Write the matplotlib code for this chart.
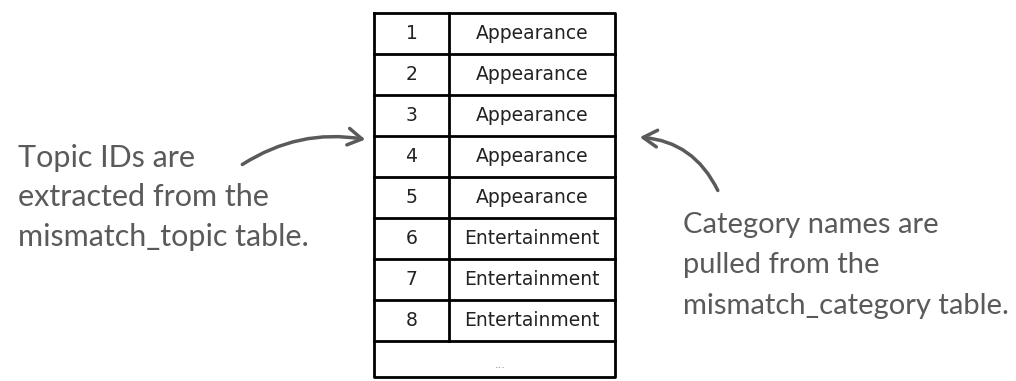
#!/usr/bin/env python3
import matplotlib.pyplot as plt
from matplotlib.patches import FancyArrowPatch

topic_ids = ['1', '2', '3', '4', '5', '6', '7', '8', '...']
categories = ['Appearance', 'Appearance', 'Appearance', 'Appearance', 'Appearance',
              'Entertainment', 'Entertainment', 'Entertainment', '']

left_note = 'Topic IDs are\nextracted from the\nmismatch_topic table.'
right_note = 'Category names are\npulled from the\nmismatch_category table.'

GREY = '#5a5a5a'

fig = plt.figure(figsize=(10.16, 3.81), dpi=100)
ax = fig.add_axes([0, 0, 1, 1])
ax.set_xlim(0, 1016)
ax.set_ylim(381, 0)
ax.axis('off')

# table layout in pixels
x0, xm, x1 = 374, 449, 615
y0 = 13
row_h = 41
bottom = 377

n = len(topic_ids)
tops = [y0 + i * row_h for i in range(n)]

ax.plot([x0, x1, x1, x0, x0], [y0, y0, bottom, bottom, y0], color='black', lw=2)
for t in tops[1:]:
    ax.plot([x0, x1], [t, t], color='black', lw=2)
ax.plot([xm, xm], [y0, tops[-1]], color='black', lw=2)

for i, (tid, cat) in enumerate(zip(topic_ids, categories)):
    if cat:
        yc = tops[i] + row_h / 2
        ax.text((x0 + xm) / 2, yc, tid, ha='center', va='center', fontsize=13.5,
                family='DejaVu Sans', color='#222222')
        ax.text((xm + x1) / 2, yc, cat, ha='center', va='center', fontsize=13.5,
                family='DejaVu Sans', color='#222222')
    else:
        # the "..." row spans both columns
        ax.text((x0 + x1) / 2 + 6, (tops[i] + bottom) / 2 + 6, tid, ha='center',
                va='center', fontsize=8, color='#888888')

# annotations
ax.text(18, 144, left_note, ha='left', va='top', fontsize=22, family='Lato',
        color=GREY, linespacing=1.5)
ax.text(683, 212, right_note, ha='left', va='top', fontsize=21, family='Lato',
        color=GREY, linespacing=1.68)

ax.add_patch(FancyArrowPatch((240, 166), (368, 140), connectionstyle='arc3,rad=-0.2',
                             arrowstyle='->,head_length=10,head_width=6',
                             color=GREY, lw=2.5))
ax.add_patch(FancyArrowPatch((719, 193), (637, 137), connectionstyle='arc3,rad=0.3',
                             arrowstyle='->,head_length=10,head_width=6',
                             color=GREY, lw=2.5))

fig.savefig('out.png', dpi=100)
